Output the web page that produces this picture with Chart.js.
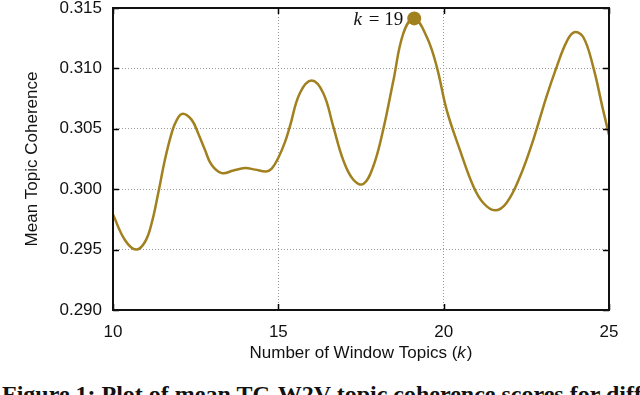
<!DOCTYPE html>
<html>
<head>
<meta charset="utf-8">
<script src="https://cdn.jsdelivr.net/npm/chart.js@4.4.1/dist/chart.umd.min.js"></script>
<style>
  html, body { margin: 0; padding: 0; background: #fff; width: 640px; height: 395px; overflow: hidden; }
  #wrap { position: relative; width: 640px; height: 395px; overflow: hidden; }
  #chart { position: absolute; left: 0; top: 0; }
  #caption { position: absolute; left: 2px; top: 381px; white-space: nowrap;
    font-family: "Liberation Serif", "Times New Roman", serif; font-weight: bold; font-size: 24px; color: #111; }
</style>
</head>
<body>
<div id="wrap">
  <canvas id="chart" width="640" height="366"></canvas>
  <div id="caption">Figure 1: Plot of mean TC-W2V topic coherence scores for different</div>
</div>
<script>
// ---- Data ----
const kValues = [10.00, 10.36, 10.70, 10.97, 11.17, 11.37, 11.57, 11.77, 11.93, 12.11,
  12.38, 12.58, 12.78, 12.98, 13.29, 13.64, 13.99, 14.30, 14.63, 14.80, 15.00, 15.20,
  15.35, 15.65, 16.01, 16.36, 16.66, 16.96, 17.27, 17.57, 17.87, 18.17, 18.48, 18.78,
  19.11, 19.49, 19.79, 20.09, 20.49, 20.90, 21.20, 21.55, 21.90, 22.31, 22.71, 23.11,
  23.42, 23.72, 23.95, 24.22, 24.52, 24.82, 25.00];
const coherence = [0.2979, 0.2958, 0.2950, 0.29565, 0.2972, 0.2997, 0.30243, 0.3046, 0.30574, 0.30624,
  0.30574, 0.3046, 0.30326, 0.30202, 0.30133, 0.30155, 0.30175, 0.30162, 0.30147, 0.3017, 0.3026, 0.3039,
  0.3052, 0.30795, 0.3090, 0.30795, 0.3052, 0.30243, 0.30078, 0.30043, 0.30188, 0.30491, 0.3090, 0.3129,
  0.31414, 0.3126, 0.31015, 0.30657, 0.30326, 0.30023, 0.29886, 0.29825, 0.29886, 0.30105, 0.30409, 0.30767,
  0.31015, 0.31222, 0.31299, 0.3126, 0.31015, 0.30657, 0.3045];
const bestK = [19.11];
const bestValue = [0.31414];
const bestLabel = "19";
const xTicks = [10, 15, 20, 25];
const yTicks = [0.290, 0.295, 0.300, 0.305, 0.310, 0.315];
const xTitleParts = ["Number of Window Topics (", "k", ")"];
const yTitle = "Mean Topic Coherence";

const lineColor = '#a1801f';
const sansFont = "'Liberation Sans', Arial, sans-serif";
const serifFont = "'Liberation Serif', 'Times New Roman', serif";

const framePlugin = {
  id: 'frame',
  afterDatasetsDraw(chart) {
    const { ctx, chartArea: a, scales } = chart;
    ctx.save();
    // inward ticks
    ctx.strokeStyle = '#000';
    ctx.lineWidth = 1.5;
    const tl = 6;
    ctx.beginPath();
    xTicks.forEach(v => {
      const px = Math.round(scales.x.getPixelForValue(v)) + 0.5;
      ctx.moveTo(px, a.bottom); ctx.lineTo(px, a.bottom - tl);
      ctx.moveTo(px, a.top); ctx.lineTo(px, a.top + tl);
    });
    yTicks.forEach(v => {
      const py = Math.round(scales.y.getPixelForValue(v)) + 0.5;
      ctx.moveTo(a.left, py); ctx.lineTo(a.left + tl, py);
      ctx.moveTo(a.right, py); ctx.lineTo(a.right - tl, py);
    });
    ctx.stroke();
    // frame
    ctx.lineWidth = 2;
    ctx.strokeStyle = '#111';
    ctx.strokeRect(a.left, a.top, a.right - a.left, a.bottom - a.top);

    // x axis title with italic k
    ctx.fillStyle = '#111';
    ctx.textBaseline = 'middle';
    ctx.textAlign = 'left';
    const fsz = 17;
    const normal = fsz + "px " + sansFont;
    const ital = "italic " + fsz + "px " + sansFont;
    ctx.font = normal;
    const w0 = ctx.measureText(xTitleParts[0]).width;
    const w2 = ctx.measureText(xTitleParts[2]).width;
    ctx.font = ital;
    const w1 = ctx.measureText(xTitleParts[1]).width;
    const total = w0 + w1 + w2 + 1;
    const cx = (a.left + a.right) / 2;
    const ty = 353;
    let sx = cx - total / 2;
    ctx.font = normal; ctx.fillText(xTitleParts[0], sx, ty); sx += w0;
    ctx.font = ital; ctx.fillText(xTitleParts[1], sx, ty); sx += w1 + 1;
    ctx.font = normal; ctx.fillText(xTitleParts[2], sx, ty);

    // annotation label
    const meta = chart.getDatasetMeta(1);
    const pt = meta.data[0];
    const fs = 19;
    const rest = " = " + bestLabel;
    ctx.textBaseline = 'alphabetic';
    ctx.font = fs + "px " + serifFont;
    const wRest = ctx.measureText(rest).width;
    ctx.font = "italic " + fs + "px " + serifFont;
    const wK = ctx.measureText("k").width;
    const right = pt.x - 11;
    const base = pt.y + 7;
    ctx.fillText("k", right - wRest - wK - 2, base);
    ctx.font = fs + "px " + serifFont;
    ctx.fillText(rest, right - wRest, base);
    ctx.restore();
  }
};

const ctx = document.getElementById('chart').getContext('2d');
new Chart(ctx, {
  type: 'line',
  data: {
    datasets: [
      {
        data: kValues.map((k, i) => ({ x: k, y: coherence[i] })),
        borderColor: lineColor,
        borderWidth: 2.5,
        pointRadius: 0,
        tension: 0.4,
        fill: false
      },
      {
        data: bestK.map((k, i) => ({ x: k, y: bestValue[i] })),
        showLine: false,
        pointRadius: 7,
        pointBackgroundColor: lineColor,
        pointBorderColor: lineColor,
        pointBorderWidth: 0,
        clip: false
      }
    ]
  },
  options: {
    responsive: false,
    animation: false,
    devicePixelRatio: 1,
    layout: { autoPadding: false, padding: { top: 8, right: 31, left: 0, bottom: 0 } },
    plugins: { legend: { display: false }, tooltip: { enabled: false } },
    scales: {
      x: {
        type: 'linear', min: 10, max: 25,
        afterFit(s) { s.height = 56; s.paddingLeft = 0; s.paddingRight = 0; },
        afterBuildTicks(s) { s.ticks = xTicks.map(v => ({ value: v })); },
        grid: { color: '#9a9a9a', lineWidth: 1, drawTicks: false },
        border: { display: false, dash: [1, 2] },
        ticks: { padding: 12, color: '#111', font: { family: sansFont, size: 17 }, maxRotation: 0 },
        title: { display: false }
      },
      y: {
        type: 'linear', min: 0.290, max: 0.315,
        afterFit(s) { s.width = 113; s.paddingTop = 0; s.paddingBottom = 0; },
        afterBuildTicks(s) { s.ticks = yTicks.map(v => ({ value: v })); },
        grid: { color: '#9a9a9a', lineWidth: 1, drawTicks: false },
        border: { display: false, dash: [1, 2] },
        ticks: { padding: 11, color: '#111', font: { family: sansFont, size: 17 }, callback: v => v.toFixed(3) },
        title: { display: true, text: yTitle, color: '#111', font: { family: sansFont, size: 17 }, padding: { top: 22, bottom: 0 } }
      }
    }
  },
  plugins: [framePlugin]
});
</script>
</body>
</html>
